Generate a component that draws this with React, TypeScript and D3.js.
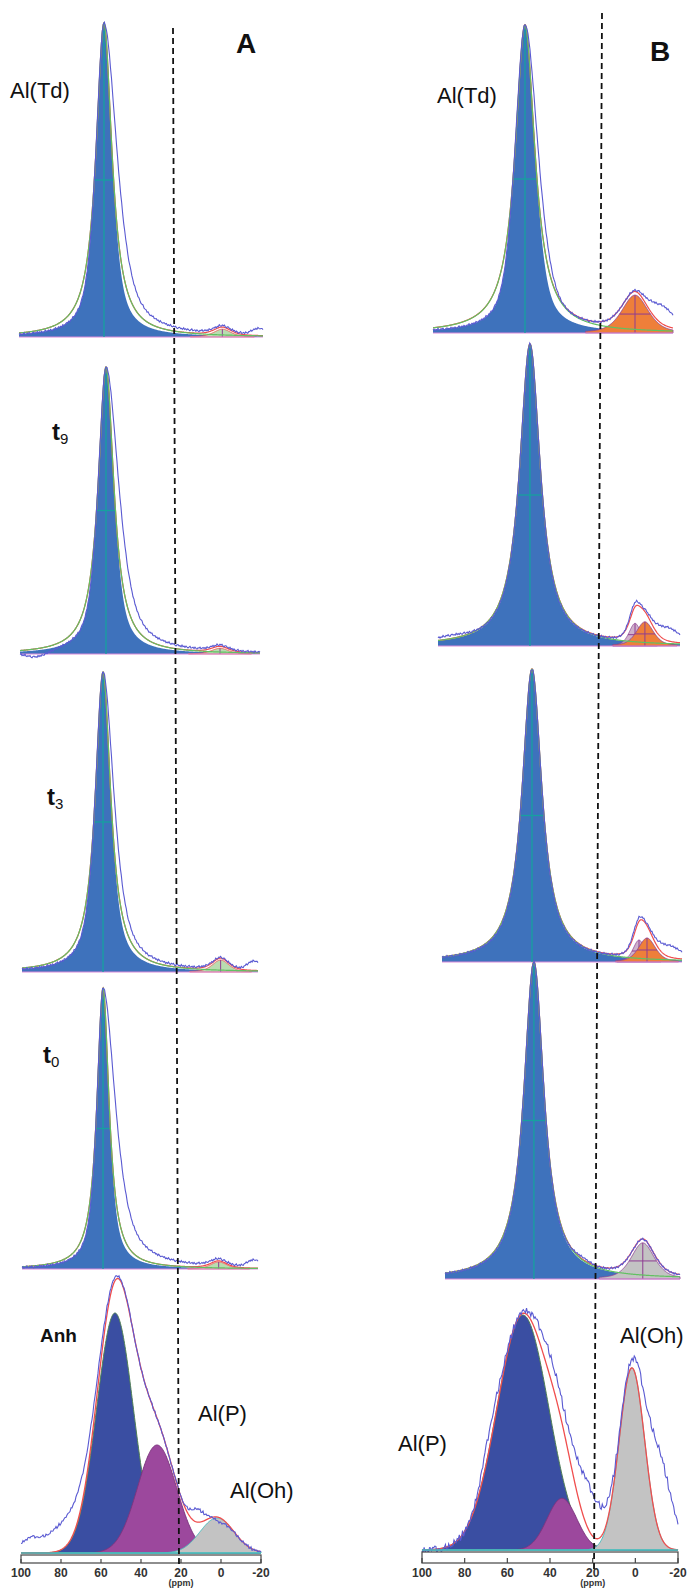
import React from 'react';
import * as d3 from 'd3';

// 27Al NMR deconvolution, two series (A, B), four stacked spectra + final state
const ppmTicks = [100, 80, 60, 40, 20, 0, -20];

// main Al(Td) line of each stacked spectrum: [ppm, fwhm (ppm), lorentzian fraction]
const tdA = [[58.2, 9.5, 0.7], [57.0, 9.5, 0.7], [58.8, 9.5, 0.75], [58.8, 7.5, 0.75]];
const tdB = [[54.0, 12.0, 0.6], [54.4, 12.4, 0.95], [55.0, 12.0, 0.95], [54.6, 12.5, 0.95]];
// broadening of the high-field side of the measured Al(Td) line (× fwhm)
const tailA = [1.6, 1.6, 1.4, 2.0];
const tailB = [1.3, 1.0, 1.0, 1.0];

// minor lines near 0 ppm, intensity relative to Al(Td) = 100: [ppm, fwhm, intensity, component]
const minorA = [
  [[0, 10, 2.5, 'oh']],
  [[0, 10, 2, 'oh']],
  [[-1, 10, 4, 'oh']],
  [[0, 10, 2.5, 'oh']],
];
const minorB = [
  [[-1, 15.5, 12.3, 'oh1']],
  [[2.3, 7, 7.5, 'oh2'], [-2.6, 10, 8, 'oh1']],
  [[1.5, 7, 7.5, 'oh2'], [-2.5, 10, 8.2, 'oh1']],
  [[-1, 14, 11.4, 'oh3']],
];

// final spectra (gaussian components, biggest = 100): [ppm, fwhm, intensity, component]
const finalA = [[53, 21.5, 100, 'anh'], [32, 23, 45, 'p'], [2, 20, 14.6, 'oh']];
const finalB = [[52.7, 28.6, 100, 'anh'], [34.4, 16.4, 22, 'p'], [1.6, 14, 77.5, 'oh']];
// unfilled part of the fit of A final
const hiddenA = [[47, 26, 10.4]];

// experimental trace minus fitted lines: [ppm, fwhm, intensity]
const expExtraA = [
  [[-18, 8, 2]],
  [[92, 14, -2.2]],
  [[-18, 8, 3]],
  [[-18, 8, 2.5]],
  [[75, 25, 12.5], [96, 12, 4.5], [12, 8, 5.4], [0, 6, -2]],
];
const expExtraB = [
  [[-15, 14, 6]],
  [[-14, 14, 4.5], [3, 6, 1.5], [94, 20, 1.3]],
  [[-14, 14, 4], [3, 6, 1.5]],
  [[30, 10, 1]],
  [[-11, 14, 35], [22, 16, 19], [40, 14, 9], [68, 10, 7.7]],
];

// receiver noise pattern of the experimental trace
const ripple = [0.2, -0.5, 0.8, -0.1, 0.4, -0.9, 0.3, 0.6, -0.4, 0.1, -0.7, 0.5, 0.9, -0.2, -0.6, 0.3,
  0.0, 0.7, -0.8, 0.4, -0.3, 0.6, -0.5, 0.2, 0.8, -0.1, -0.9, 0.5, 0.1, -0.4, 0.7, -0.6, 0.3, 0.9,
  -0.2, 0.0, -0.8, 0.6, 0.2, -0.5, 0.4, -0.3, 0.8, -0.7, 0.1, 0.5, -0.1, -0.4];

const stackLabelsA = ['Al(Td)', 't9', 't3', 't0'];

const FONT = "'Liberation Sans', Arial, sans-serif";
const C = {
  td: '#3e72bc',
  anh: '#3a4ea2',
  p: '#9c489d',
  oh: '#c3c3c3',
  oh1: '#ee7f3a',
  oh2: '#c9a9c6',
  oh3: '#c3c3c3',
  ohA: '#b9dcb0',
  green: '#62c062',
  red: '#f04e4e',
  exp: '#5a5ad2',
  cross: '#17a0a0',
  crossMinor: '#8e3d92',
  base: '#d98ad9',
  teal: '#48bcbc',
};

// frames: pixel of 100 ppm, pixel of -20 ppm, baseline, top of intensity 100
const framesA = [
  { x0: 19, x1: 263, base: 337, top: 23 },
  { x0: 20, x1: 260, base: 654, top: 367 },
  { x0: 22, x1: 258, base: 972, top: 672 },
  { x0: 22, x1: 258, base: 1269, top: 988 },
  { x0: 21, x1: 261, base: 1553, top: 1313 },
];
const framesB = [
  { x0: 433, x1: 673, base: 333, top: 25 },
  { x0: 438, x1: 680, base: 646, top: 344 },
  { x0: 442, x1: 682, base: 962, top: 669 },
  { x0: 445, x1: 680, base: 1279, top: 962 },
  { x0: 422, x1: 678, base: 1550, top: 1315 },
];

function pv(p: number, c: number, w: number, eta: number) {
  const d = (p - c) / w;
  const L = 1 / (1 + 4 * d * d);
  const G = Math.exp(-4 * Math.LN2 * d * d);
  return eta * L + (1 - eta) * G;
}

const grid = d3.range(0, 481).map((i) => 100 - i * 0.25);
const expGrid = d3.range(0, 241).map((i) => 100 - i * 0.5);

function StackPanel({ f, main, tail, minors, extras, noise }: any) {
  const x = d3.scaleLinear().domain([100, -20]).range([f.x0, f.x1]);
  const y = d3.scaleLinear().domain([0, 100]).range([f.base, f.top]);
  const [c, w, eta] = main;
  const fillV = (p: number) => 100 * pv(p, c, w, eta);
  const lorV = (p: number) => 100 * pv(p, c, w, 1);
  const measV = (p: number) => (p >= c ? fillV(p) : 100 * pv(p, c, w * tail, eta));
  const minV = (m: any, p: number) => m[2] * pv(p, m[0], m[1], 0.5);
  const sumMin = (p: number) => d3.sum(minors, (m: any) => minV(m, p));
  const extraV = (p: number) => d3.sum(extras, (e: any) => e[2] * pv(p, e[0], e[1], 0));

  const area = (fn: (p: number) => number) =>
    d3.area<number>().x((p) => x(p)).y0(f.base).y1((p) => y(fn(p)))(grid) as string;
  const line = (fn: (p: number) => number) =>
    d3.line<number>().x((p) => x(p)).y((p) => y(fn(p)))(grid) as string;
  const expPath = d3
    .line<number>()
    .x((p) => x(p))
    .y((p, i) => y(measV(p) + sumMin(p) + extraV(p)) + ripple[i % ripple.length] * noise)(expGrid) as string;

  return (
    <g>
      <path d={area(fillV)} fill={C.td} />
      {minors.map((m: any, i: number) => {
        const sub = grid.filter((p) => Math.abs(p - m[0]) < m[1] * 1.6);
        const a = d3.area<number>().x((p) => x(p)).y0(f.base).y1((p) => y(minV(m, p)))(sub) as string;
        const minor = m[3] === 'oh';
        return (
          <g key={i}>
            <path d={a} fill={minor ? C.ohA : (C as any)[m[3]]} stroke={minor ? C.red : C.crossMinor}
              strokeWidth={0.8} opacity={m[3] === 'oh2' ? 0.9 : 1} />
            <line x1={x(m[0])} x2={x(m[0])} y1={y(m[2])} y2={f.base} stroke={C.crossMinor} strokeWidth={1} />
            {!minor && (
              <line x1={x(m[0] + m[1] / 2)} x2={x(m[0] - m[1] / 2)} y1={y(m[2] / 2)} y2={y(m[2] / 2)}
                stroke={C.crossMinor} strokeWidth={1} />
            )}
          </g>
        );
      })}
      <line x1={f.x0} x2={f.x1} y1={f.base} y2={f.base} stroke={C.base} strokeWidth={1.2} />
      <line x1={x(c)} x2={x(c)} y1={y(100)} y2={f.base} stroke={C.cross} strokeWidth={1.3} />
      <line x1={x(c + w / 2)} x2={x(c - w / 2)} y1={y(50)} y2={y(50)} stroke={C.cross} strokeWidth={1.3} />
      <path d={line((p) => lorV(p) + sumMin(p))} fill="none" stroke={C.red} strokeWidth={1.2} />
      <path d={line(lorV)} fill="none" stroke={C.green} strokeWidth={1.2} />
      <path d={expPath} fill="none" stroke={C.exp} strokeWidth={1.1} />
    </g>
  );
}

function FinalPanel({ f, comps, hidden, extras, noise, tickDown }: any) {
  const x = d3.scaleLinear().domain([100, -20]).range([f.x0, f.x1]);
  const y = d3.scaleLinear().domain([0, 100]).range([f.base, f.top]);
  const compV = (m: any, p: number) => m[2] * pv(p, m[0], m[1], 0);
  const sumV = (p: number) =>
    d3.sum(comps, (m: any) => compV(m, p)) + d3.sum(hidden, (m: any) => compV(m, p));
  const extraV = (p: number) => d3.sum(extras, (e: any) => e[2] * pv(p, e[0], e[1], 0));
  const fills: any = { anh: C.anh, p: C.p, oh: C.oh };
  const strokes: any = { anh: '#4f7f55', p: '#7d357f', oh: C.teal };
  const expPath = d3
    .line<number>()
    .x((p) => x(p))
    .y((p, i) => y(sumV(p) + extraV(p)) + ripple[(i * 7) % ripple.length] * noise)(expGrid) as string;
  const boxTop = f.base + 2;
  const boxBot = 1563;

  return (
    <g>
      {comps.map((m: any, i: number) => (
        <path key={i}
          d={d3.area<number>().x((p) => x(p)).y0(f.base).y1((p) => y(compV(m, p)))(grid) as string}
          fill={fills[m[3]]} stroke={strokes[m[3]]} strokeWidth={1} />
      ))}
      <path d={d3.line<number>().x((p) => x(p)).y((p) => y(sumV(p)))(grid) as string}
        fill="none" stroke={C.red} strokeWidth={1.3} />
      <path d={expPath} fill="none" stroke={C.exp} strokeWidth={1.1} />
      <line x1={f.x0} x2={f.x1} y1={f.base} y2={f.base} stroke={C.teal} strokeWidth={1.3} />
      <rect x={f.x0} y={boxTop} width={f.x1 - f.x0} height={boxBot - boxTop} fill="#fff" stroke="#444" strokeWidth={1.2} />
      {ppmTicks.map((t) => (
        <g key={t}>
          <line x1={x(t)} x2={x(t)} y1={boxBot} y2={boxBot - tickDown} stroke="#444" strokeWidth={1.2} />
          <text x={x(t)} y={1577} textAnchor="middle" fontSize={12} fontWeight="bold" fill="#333">{t}</text>
        </g>
      ))}
      <text x={x(20)} y={1586} textAnchor="middle" fontSize={9} fontWeight="bold" fill="#333">(ppm)</text>
    </g>
  );
}

export default function App() {
  const label = { fontSize: 22, fill: '#111' };
  return (
    <svg width={690} height={1588} style={{ position: 'absolute', left: 0, top: 0, background: '#fff' }}
      fontFamily={FONT}>
      {tdA.map((m, i) => (
        <StackPanel key={'a' + i} f={framesA[i]} main={m} tail={tailA[i]} minors={minorA[i]}
          extras={expExtraA[i]} noise={1.2} />
      ))}
      {tdB.map((m, i) => (
        <StackPanel key={'b' + i} f={framesB[i]} main={m} tail={tailB[i]} minors={minorB[i]}
          extras={expExtraB[i]} noise={1.2} />
      ))}
      <FinalPanel f={framesA[4]} comps={finalA} hidden={hiddenA} extras={expExtraA[4]} noise={1.6} tickDown={4} />
      <FinalPanel f={framesB[4]} comps={finalB} hidden={[]} extras={expExtraB[4]} noise={4} tickDown={5} />

      {/* 20 ppm guide lines */}
      <line x1={173} y1={28} x2={179} y2={1565} stroke="#111" strokeWidth={1.8} strokeDasharray="6,4" />
      <line x1={602} y1={13} x2={594} y2={1570} stroke="#111" strokeWidth={1.8} strokeDasharray="6,4" />

      <text x={236} y={53} fontSize={28} fontWeight="bold" fill="#111">A</text>
      <text x={650} y={61} fontSize={28} fontWeight="bold" fill="#111">B</text>

      <text x={10} y={98} {...label}>{stackLabelsA[0]}</text>
      <text x={437} y={103} {...label}>Al(Td)</text>
      {[[52, 440], [47, 805], [43, 1063]].map(([lx, ly], i) => (
        <text key={i} x={lx} y={ly} fontSize={24} fontWeight="bold" fill="#111">
          {stackLabelsA[i + 1][0]}
          <tspan fontSize={15} fontWeight="normal" dy={4}>{stackLabelsA[i + 1].slice(1)}</tspan>
        </text>
      ))}
      <text x={40} y={1342} fontSize={19} fontWeight="bold" fill="#111">Anh</text>
      <text x={198} y={1421} {...label}>Al(P)</text>
      <text x={230} y={1498} {...label}>Al(Oh)</text>
      <text x={620} y={1343} {...label}>Al(Oh)</text>
      <text x={398} y={1451} {...label}>Al(P)</text>
    </svg>
  );
}
